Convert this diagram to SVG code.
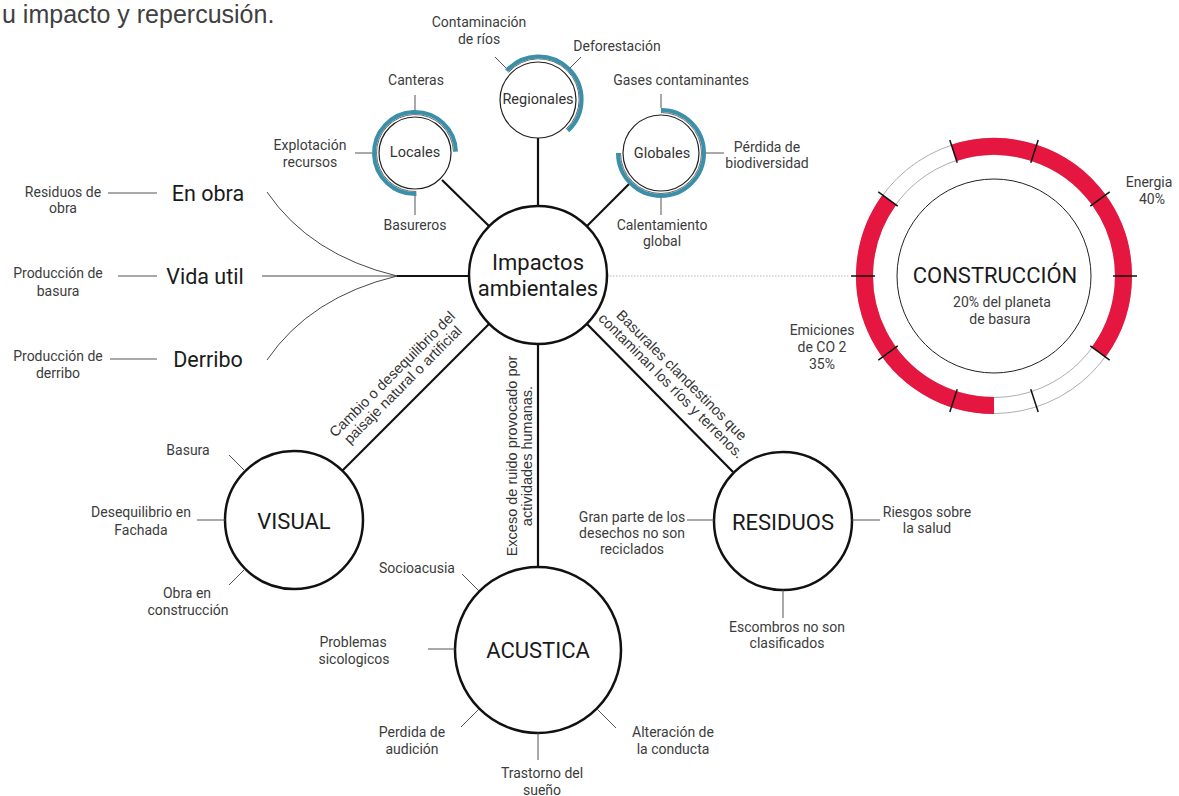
<svg xmlns="http://www.w3.org/2000/svg" width="1179" height="796" viewBox="0 0 1179 796">
<style>
.t{font-family:Roboto,"Liberation Sans",sans-serif;text-anchor:middle;dominant-baseline:central}
.lbl{font-size:14px;fill:#3c3c3c}
.big{font-size:21.5px;fill:#1a1a1a}
.cap{font-size:22px;fill:#1a1a1a}
.in{font-size:14.5px;fill:#333}
.diag{font-family:"Liberation Sans",Arial,sans-serif;font-size:14.5px;fill:#333;text-anchor:middle}
.tick{stroke:#555;stroke-width:1;fill:none}
.conn{stroke:#111;stroke-width:2.2;fill:none}
.node{fill:#fff;stroke:#111;stroke-width:2.5}
.sm{fill:#fff;stroke:#222;stroke-width:1.2}
.blue{fill:none;stroke:#3b8fa9;stroke-width:4}
.thin{fill:none;stroke:#444;stroke-width:0.8}
.curve{fill:none;stroke:#333;stroke-width:0.9}
.red{fill:none;stroke:#e5163f;stroke-width:17}
.rt{stroke:#111;stroke-width:1.5}
</style>
<rect width="1179" height="796" fill="#fff"/>
<text x="2" y="23" font-family="'Liberation Sans',Arial,sans-serif" font-size="25" fill="#404040">u impacto y repercusión.</text>

<g id="connectors">
  <line class="conn" x1="442" y1="180" x2="489" y2="226"/>
  <line class="conn" x1="538" y1="138" x2="538" y2="206"/>
  <line class="conn" x1="631" y1="182" x2="587" y2="226"/>
  <line class="conn" x1="342" y1="471" x2="489" y2="324"/>
  <line class="conn" x1="538" y1="344" x2="538" y2="567"/>
  <line class="conn" x1="733" y1="472" x2="587" y2="324"/>
  <line class="conn" x1="397" y1="276" x2="469" y2="276"/>
  <line stroke="#333" stroke-width="0.9" x1="262" y1="276" x2="397" y2="276"/>
  <path class="curve" d="M267,192 Q310,255 397,276"/>
  <path class="curve" d="M267,360 Q310,297 397,276"/>
  <line stroke="#b5b5b5" stroke-width="1" stroke-dasharray="1.5 1.5" x1="607" y1="276" x2="850" y2="276"/>
</g>

<g id="title-left">
  <g id="en-obra">
    <text class="t lbl" x="63" y="192">Residuos de</text>
    <text class="t lbl" x="63" y="208">obra</text>
    <line class="tick" x1="108" y1="193" x2="157" y2="193"/>
    <text class="t big" x="208" y="193">En obra</text>
  </g>
  <g id="vida-util">
    <text class="t lbl" x="58" y="273">Producción de</text>
    <text class="t lbl" x="58" y="291">basura</text>
    <line class="tick" x1="118" y1="276" x2="157" y2="276"/>
    <text class="t big" x="205" y="276">Vida util</text>
  </g>
  <g id="derribo">
    <text class="t lbl" x="58" y="356">Producción de</text>
    <text class="t lbl" x="58" y="373">derribo</text>
    <line class="tick" x1="110" y1="359" x2="157" y2="359"/>
    <text class="t big" x="208" y="359">Derribo</text>
  </g>
</g>

<g id="locales">
  <circle class="sm" cx="415" cy="153" r="36"/>
  <path class="thin" d="M416.3,191.5 A38.5,38.5 0 1 1 453.5,151.7"/>
  <path class="blue" d="M416.4,194 A41,41 0 1 1 456,151.6"/>
  <text class="t in" x="415" y="152">Locales</text>
  <line class="tick" x1="415" y1="95" x2="415" y2="110"/>
  <text class="t lbl" x="416" y="80">Canteras</text>
  <line class="tick" x1="355" y1="153" x2="372" y2="153"/>
  <text class="t lbl" x="310" y="145">Explotación</text>
  <text class="t lbl" x="310" y="162">recursos</text>
  <line class="tick" x1="415" y1="196" x2="415" y2="215"/>
  <text class="t lbl" x="415" y="225">Basureros</text>
</g>

<g id="regionales">
  <circle class="sm" cx="538" cy="100" r="38"/>
  <path class="thin" d="M508.4,72.4 A40.5,40.5 0 1 1 566.1,129.1"/>
  <path class="blue" d="M506.6,70.7 A43,43 0 1 1 567.9,130.9"/>
  <text class="t in" x="538" y="99" font-size="15">Regionales</text>
  <line class="tick" x1="506" y1="68" x2="495" y2="57"/>
  <text class="t lbl" x="479" y="22">Contaminación</text>
  <text class="t lbl" x="479" y="39">de ríos</text>
  <line class="tick" x1="570" y1="68" x2="581" y2="57"/>
  <text class="t lbl" x="617" y="46">Deforestación</text>
</g>

<g id="globales">
  <circle class="sm" cx="661" cy="153" r="38"/>
  <path class="thin" d="M661,112.5 A40.5,40.5 0 1 1 620.5,153"/>
  <path class="blue" d="M661,110 A43,43 0 1 1 618,153"/>
  <text class="t in" x="662" y="153">Globales</text>
  <line class="tick" x1="661" y1="94" x2="661" y2="108"/>
  <text class="t lbl" x="681" y="80">Gases contaminantes</text>
  <line class="tick" x1="706" y1="153" x2="724" y2="153"/>
  <text class="t lbl" x="767" y="147">Pérdida de</text>
  <text class="t lbl" x="767" y="163">biodiversidad</text>
  <line class="tick" x1="661" y1="198" x2="661" y2="215"/>
  <text class="t lbl" x="662" y="225">Calentamiento</text>
  <text class="t lbl" x="662" y="241">global</text>
</g>

<g id="impactos">
  <circle class="node" cx="538" cy="275" r="69"/>
  <text class="t" x="538" y="262" font-size="22" fill="#1a1a1a">Impactos</text>
  <text class="t" x="538" y="288" font-size="22" fill="#1a1a1a">ambientales</text>
</g>

<g id="visual">
  <circle class="node" cx="294" cy="520" r="69"/>
  <text class="t cap" x="294" y="521" font-size="21">VISUAL</text>
  <line class="tick" x1="229" y1="455" x2="245" y2="471"/>
  <text class="t lbl" x="188" y="450">Basura</text>
  <line class="tick" x1="197" y1="520" x2="225" y2="520"/>
  <text class="t lbl" x="141" y="512">Desequilibrio en</text>
  <text class="t lbl" x="141" y="530">Fachada</text>
  <line class="tick" x1="229" y1="585" x2="245" y2="569"/>
  <text class="t lbl" x="187" y="593">Obra en</text>
  <text class="t lbl" x="188" y="610">construcción</text>
</g>

<g id="acustica">
  <circle class="node" cx="538" cy="650" r="83"/>
  <text class="t cap" x="538" y="650">ACUSTICA</text>
  <line class="tick" x1="462" y1="574" x2="479" y2="591"/>
  <text class="t lbl" x="417" y="568">Socioacusia</text>
  <line class="tick" x1="428" y1="649" x2="455" y2="649"/>
  <text class="t lbl" x="353" y="642">Problemas</text>
  <text class="t lbl" x="354" y="659">sicologicos</text>
  <line class="tick" x1="479" y1="709" x2="461" y2="727"/>
  <text class="t lbl" x="412" y="732">Perdida de</text>
  <text class="t lbl" x="412" y="749">audición</text>
  <line class="tick" x1="538" y1="733" x2="538" y2="760"/>
  <text class="t lbl" x="542" y="773">Trastorno del</text>
  <text class="t lbl" x="542" y="790">sueño</text>
  <line class="tick" x1="597" y1="709" x2="616" y2="728"/>
  <text class="t lbl" x="673" y="732">Alteración de</text>
  <text class="t lbl" x="673" y="749">la conducta</text>
</g>

<g id="residuos">
  <circle class="node" cx="783" cy="521" r="69"/>
  <text class="t cap" x="783" y="522">RESIDUOS</text>
  <line class="tick" x1="687" y1="520" x2="714" y2="520"/>
  <text class="t lbl" x="632" y="517">Gran parte de los</text>
  <text class="t lbl" x="632" y="533">desechos no son</text>
  <text class="t lbl" x="632" y="549">reciclados</text>
  <line class="tick" x1="852" y1="520" x2="880" y2="520"/>
  <text class="t lbl" x="927" y="512">Riesgos sobre</text>
  <text class="t lbl" x="927" y="528">la salud</text>
  <line class="tick" x1="783" y1="590" x2="783" y2="618"/>
  <text class="t lbl" x="787" y="627">Escombros no son</text>
  <text class="t lbl" x="787" y="643">clasificados</text>
</g>

<g id="edge-labels">
  <text class="diag" transform="translate(415.5,397.5) rotate(-45)"><tspan x="0" y="-28">Cambio o desequilibrio del</tspan><tspan x="0" y="-13">paisaje natural o artificial</tspan></text>
  <text class="diag" transform="translate(538,456) rotate(-90)"><tspan x="0" y="-21">Exceso de ruido provocado por</tspan><tspan x="0" y="-6">actividades humanas.</tspan></text>
  <text class="diag" transform="translate(662,395) rotate(45)"><tspan x="0" y="-23">Basurales clandestinos que</tspan><tspan x="0" y="-8">contaminan los ríos y terrenos.</tspan></text>
</g>

<g id="construccion">
  <circle cx="994" cy="276" r="121.5" fill="none" stroke="#999" stroke-width="0.8"/>
  <circle cx="994" cy="276" r="137.5" fill="none" stroke="#999" stroke-width="0.8"/>
  <path class="red" d="M953.98,152.83 A129.5,129.5 0 0 1 1098.77,352.12"/>
  <path class="red" d="M994,405.5 A129.5,129.5 0 0 1 889.23,199.88"/>
  <circle cx="994" cy="276" r="97" fill="none" stroke="#222" stroke-width="1"/>
  <line class="rt" x1="1113" y1="276" x2="1137" y2="276"/>
  <line class="rt" x1="1090.27" y1="345.95" x2="1109.69" y2="360.06"/>
  <line class="rt" x1="1030.77" y1="389.18" x2="1038.19" y2="412.01"/>
  <line class="rt" x1="957.23" y1="389.18" x2="949.81" y2="412.01"/>
  <line class="rt" x1="897.73" y1="345.95" x2="878.31" y2="360.06"/>
  <line class="rt" x1="875" y1="276" x2="851" y2="276"/>
  <line class="rt" x1="897.73" y1="206.05" x2="878.31" y2="191.94"/>
  <line class="rt" x1="957.23" y1="162.82" x2="949.81" y2="139.99"/>
  <line class="rt" x1="1030.77" y1="162.82" x2="1038.19" y2="139.99"/>
  <line class="rt" x1="1090.27" y1="206.05" x2="1109.69" y2="191.94"/>
  <text class="t cap" x="995" y="275">CONSTRUCCIÓN</text>
  <text class="t lbl" x="1002" y="302">20% del planeta</text>
  <text class="t lbl" x="1000" y="319">de basura</text>
  <text class="t lbl" x="1149" y="182">Energia</text>
  <text class="t lbl" x="1152" y="199">40%</text>
  <text class="t lbl" x="822" y="330">Emiciones</text>
  <text class="t lbl" x="822" y="347">de CO 2</text>
  <text class="t lbl" x="822" y="364">35%</text>
</g>
</svg>
